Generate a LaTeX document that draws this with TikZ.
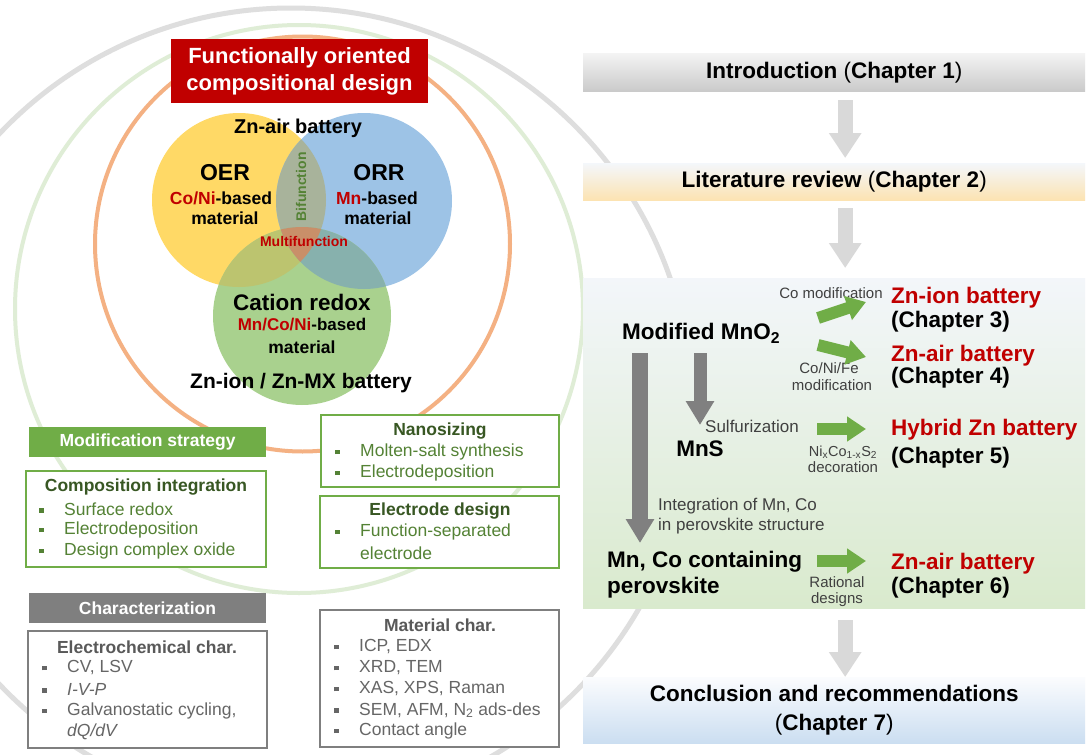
\documentclass[tikz,border=0pt]{standalone}
\usepackage{fontspec}
\setmainfont{Liberation Sans}
\usetikzlibrary{arrows.meta}
\definecolor{dred}{HTML}{C00000}
\definecolor{vyel}{HTML}{FFD966}
\definecolor{vblu}{HTML}{9DC3E6}
\definecolor{vgrn}{HTML}{A9D18E}
\definecolor{vyb}{HTML}{A8B39B}
\definecolor{vyg}{HTML}{BCC46F}
\definecolor{vbg}{HTML}{87B1AD}
\definecolor{vall}{HTML}{C98F69}
\definecolor{ringgray}{HTML}{DEDEDE}
\definecolor{ringgrn}{HTML}{DFEDD6}
\definecolor{ringor}{HTML}{F4B183}
\definecolor{mgreen}{HTML}{70AD47}
\definecolor{tgreen}{HTML}{385723}
\definecolor{igreen}{HTML}{548235}
\definecolor{cgray}{HTML}{7F7F7F}
\definecolor{tgray}{HTML}{595959}
\definecolor{igray}{HTML}{666666}
\definecolor{agray}{HTML}{D9D9D9}
\definecolor{dgray}{HTML}{808080}
\definecolor{lblgray}{HTML}{404040}
\definecolor{introtop}{HTML}{F4F4F4}
\definecolor{introbot}{HTML}{CACACA}
\definecolor{littop}{HTML}{F4F7FB}
\definecolor{litbot}{HTML}{FCE3B2}
\definecolor{grtop}{HTML}{F3F6FA}
\definecolor{grbot}{HTML}{D9EACD}
\definecolor{cotop}{HTML}{FBFCFE}
\definecolor{cobot}{HTML}{CBDEF1}
\newcommand{\fs}[1]{\fontsize{#1}{#1}\selectfont}
\newcommand{\bul}{\makebox[25pt][l]{\raisebox{2.5pt}{\rule{4.5pt}{4.5pt}}}}
\newcommand{\rd}[1]{\textcolor{dred}{#1}}
\begin{document}
\begin{tikzpicture}[x=1pt,y=-1pt,
  txt/.style={inner sep=0pt},
  boxg/.style={draw=mgreen, line width=1.3pt, fill=white, inner sep=0pt},
  boxc/.style={draw=cgray, line width=1.3pt, fill=white, inner sep=0pt},
  garrow/.style={draw=agray, line width=15pt, -{Triangle[width=31pt,length=25pt]}},
  darrow/.style={draw=dgray, -{Triangle[width=27pt,length=24pt]}},
  grarrow/.style={draw=mgreen, line width=12pt, -{Triangle[width=24pt,length=19pt]}},
  itemg/.style={txt, anchor=west, text=igreen, font=\fs{17.5}},
  itemc/.style={txt, anchor=west, text=igray, font=\fs{17.5}},
  small/.style={txt, text=lblgray, font=\fs{15}},
  big/.style={txt, anchor=west, font=\bfseries\fs{22.5}}
]
\useasboundingbox (0,0) rectangle (1088,755);
\fill[white] (0,0) rectangle (1088,755);

% background rings
\draw[ringgray, line width=5pt] (291,409) circle[radius=401pt];
\draw[ringgrn, line width=4pt] (299,309) circle[radius=284pt];
\draw[ringor, line width=4pt] (302.5,244) circle[radius=207.5pt];

% Venn diagram
\coordinate (cY) at (239,200);
\coordinate (cB) at (364,201);
\coordinate (cG) at (302,316);
\fill[vyel] (cY) circle[radius=87pt];
\fill[vblu] (cB) circle[radius=88pt];
\fill[vgrn] (cG) circle[radius=89pt];
\begin{scope}\clip (cY) circle[radius=87pt]; \fill[vyb] (cB) circle[radius=88pt];\end{scope}
\begin{scope}\clip (cY) circle[radius=87pt]; \fill[vyg] (cG) circle[radius=89pt];\end{scope}
\begin{scope}\clip (cB) circle[radius=88pt]; \fill[vbg] (cG) circle[radius=89pt];\end{scope}
\begin{scope}\clip (cY) circle[radius=87pt]; \clip (cB) circle[radius=88pt]; \fill[vall] (cG) circle[radius=89pt];\end{scope}

\node[fill=dred, minimum width=257pt, minimum height=64pt, inner sep=0pt, text=white, align=center,
  font=\bfseries\fontsize{22}{27}\selectfont] (title) at (299.5,71) {Functionally oriented\\compositional design};

\node[txt, font=\bfseries\fs{20}] (znair) at (298,128) {Zn-air battery};
\node[txt, font=\bfseries\fs{23}] (oer) at (225,173) {OER};
\node[txt, font=\bfseries\fs{17.5}] (oer1) at (221,198) {\rd{Co/Ni}-based};
\node[txt, font=\bfseries\fs{17.5}] (oer2) at (225,218) {material};
\node[txt, font=\bfseries\fs{23}] (orr) at (379,173) {ORR};
\node[txt, font=\bfseries\fs{17.5}] (orr1) at (377,198) {\rd{Mn}-based};
\node[txt, font=\bfseries\fs{17.5}] (orr2) at (378,218) {material};
\node[txt, font=\bfseries\fs{14}, text=igreen, rotate=90] (bif) at (301,187) {Bifunction};
\node[txt, font=\bfseries\fs{14}, text=dred] (multi) at (304,241) {Multifunction};
\node[txt, font=\bfseries\fs{22.5}] (cat) at (302,302) {Cation redox};
\node[txt, font=\bfseries\fs{17}] (cat1) at (302,325) {\rd{Mn/Co/Ni}-based};
\node[txt, font=\bfseries\fs{17.5}] (cat2) at (302,347) {material};
\node[txt, font=\bfseries\fs{21}] (znion) at (301,383) {Zn-ion / Zn-MX battery};

% Modification strategy
\node[fill=mgreen, minimum width=237pt, minimum height=30pt, inner sep=0pt, text=white,
  font=\bfseries\fs{17.5}] (mods) at (147.5,442) {Modification strategy};
\node[boxg, minimum width=240pt, minimum height=96pt] (comp) at (146,519) {};
\node[txt, text=tgreen, font=\bfseries\fs{17.5}] (compt) at (146,487) {Composition integration};
\node[itemg] (c1) at (39,509) {\bul Surface redox};
\node[itemg] (c2) at (39,530) {\bul Electrodeposition};
\node[itemg] (c3) at (39,551) {\bul Design complex oxide};

\node[boxg, minimum width=238pt, minimum height=72pt] (nano) at (440,451) {};
\node[txt, text=tgreen, font=\bfseries\fs{17.5}] (nanot) at (440,431) {Nanosizing};
\node[itemg] (n1) at (335,452) {\bul Molten-salt synthesis};
\node[itemg] (n2) at (335,473) {\bul Electrodeposition};

\node[boxg, minimum width=239pt, minimum height=72pt] (elec) at (439.5,532) {};
\node[txt, text=tgreen, font=\bfseries\fs{17.5}] (elect) at (440,511) {Electrode design};
\node[itemg] (e1) at (335,532) {\bul Function-separated};
\node[itemg] (e2) at (360,553) {electrode};

% Characterization
\node[fill=cgray, minimum width=237pt, minimum height=30pt, inner sep=0pt, text=white,
  font=\bfseries\fs{17.5}] (chars) at (147.5,608) {Characterization};
\node[boxc, minimum width=239pt, minimum height=117pt] (echem) at (147.5,689.5) {};
\node[txt, text=tgray, font=\bfseries\fs{17.5}] (echemt) at (147,647) {Electrochemical char.};
\node[itemc] (h1) at (42,668) {\bul CV, LSV};
\node[itemc] (h2) at (42,689) {\bul \textit{I-V-P}};
\node[itemc] (h3) at (42,711) {\bul Galvanostatic cycling,};
\node[itemc] (h4) at (67,732) {\textit{dQ/dV}};

\node[boxc, minimum width=239pt, minimum height=137pt] (mat) at (439.5,678.5) {};
\node[txt, text=tgray, font=\bfseries\fs{17.5}] (matt) at (440,625) {Material char.};
\node[itemc] (m1) at (334,647) {\bul ICP, EDX};
\node[itemc] (m2) at (334,668) {\bul XRD, TEM};
\node[itemc] (m3) at (334,689) {\bul XAS, XPS, Raman};
\node[itemc] (m4) at (334,710) {\bul SEM, AFM, N\textsubscript{2} ads-des};
\node[itemc] (m5) at (334,731) {\bul Contact angle};

% Right-hand flow
\node[anchor=north west, minimum width=502pt, minimum height=38pt, inner sep=0pt,
  top color=introtop, bottom color=introbot, font=\bfseries\fs{22.5}] (intro) at (583,53)
  {Introduction {\mdseries(}Chapter 1{\mdseries)}};
\node[anchor=north west, minimum width=502pt, minimum height=37pt, inner sep=0pt,
  top color=littop, bottom color=litbot, font=\bfseries\fs{22.5}] (lit) at (583,163)
  {Literature review {\mdseries(}Chapter 2{\mdseries)}};
\node[anchor=north west, minimum width=502pt, minimum height=330pt, inner sep=0pt,
  top color=grtop, bottom color=grbot] (green) at (583,278) {};
\node[anchor=north west, minimum width=502pt, minimum height=66pt, inner sep=0pt, align=center,
  top color=cotop, bottom color=cobot, font=\bfseries\fontsize{22.5}{29}\selectfont] (concl) at (583,677)
  {Conclusion and recommendations\\{\mdseries(}Chapter 7{\mdseries)}};

\draw[garrow] ([xshift=11pt,yshift=-9pt]intro.south) -- ([xshift=11pt,yshift=5pt]lit.north);
\draw[garrow] ([xshift=11pt,yshift=-8pt]lit.south) -- ([xshift=11pt,yshift=10pt]green.north);
\draw[garrow] ([xshift=11pt,yshift=-12pt]green.south) -- ([xshift=11pt]concl.north);

% inside green area
\node[big] (mod) at (622,333) {Modified MnO\textsubscript{2}};
\node[txt, font=\bfseries\fs{22.5}] (mns) at (700,449) {MnS};
\node[big] (per1) at (607,562) {Mn, Co containing};
\node[big] (per2) at (607,588) {perovskite};

\coordinate (l1) at (640,353);
\coordinate (l2) at (640,543);
\coordinate (s1) at (700,353);
\coordinate (s2) at (700,425);
\draw[darrow, line width=16pt] (l1) -- (l2);
\draw[darrow, line width=13pt] (s1) -- (s2);

\node[txt, anchor=west, text=lblgray, font=\fs{17}] (sulf) at (705,426) {Sulfurization};
\node[txt, anchor=west, text=lblgray, font=\fs{17}] (int1) at (658,506) {Integration of Mn, Co};
\node[txt, anchor=west, text=lblgray, font=\fs{17}] (int2) at (658,526) {in perovskite structure};

\node[small] (comod) at (831,293) {Co modification};
\node[small] (cnf1) at (829,368) {Co/Ni/Fe};
\node[small] (cnf2) at (832,385) {modification};
\node[small, font=\fs{14.5}] (ncs1) at (843,452) {Ni\textsubscript{x}Co\textsubscript{1-x}S\textsubscript{2}};
\node[small] (ncs2) at (843,467) {decoration};
\node[small] (rat1) at (837,582) {Rational};
\node[small] (rat2) at (837,600) {designs};

\coordinate (g1s) at (818,318); \coordinate (g1e) at (866,302);
\coordinate (g2s) at (818,345); \coordinate (g2e) at (866,357);
\coordinate (g3s) at (817,429); \coordinate (g3e) at (866,429);
\coordinate (g4s) at (817,561); \coordinate (g4e) at (866,561);
\draw[grarrow] (g1s) -- (g1e);
\draw[grarrow] (g2s) -- (g2e);
\draw[grarrow] (g3s) -- (g3e);
\draw[grarrow] (g4s) -- (g4e);

\node[big, text=dred] (ch3a) at (891,298) {Zn-ion battery};
\node[big] (ch3b) at (891,322) {(Chapter 3)};
\node[big, text=dred] (ch4a) at (891,356) {Zn-air battery};
\node[big] (ch4b) at (891,378) {(Chapter 4)};
\node[big, text=dred] (ch5a) at (891,430) {Hybrid Zn battery};
\node[big] (ch5b) at (891,458) {(Chapter 5)};
\node[big, text=dred] (ch6a) at (891,564) {Zn-air battery};
\node[big] (ch6b) at (891,588) {(Chapter 6)};
\end{tikzpicture}
\end{document}
